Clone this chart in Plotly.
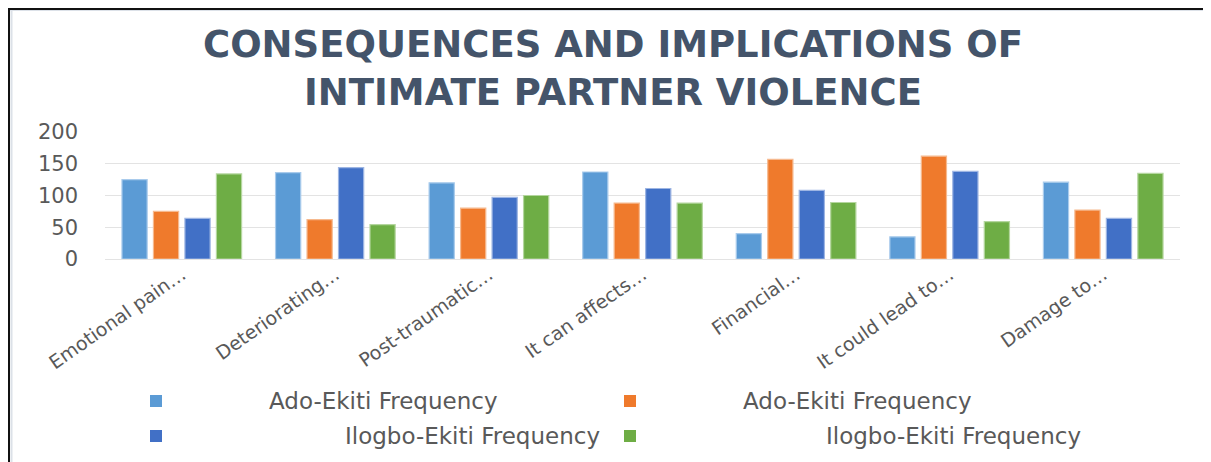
import plotly.graph_objects as go

categories = ["Emotional pain…", "Deteriorating…", "Post-traumatic…", "It can affects…",
              "Financial…", "It could lead to…", "Damage to…"]
series_names = ["Ado-Ekiti Frequency", "Ado-Ekiti Frequency",
                "Ilogbo-Ekiti Frequency", "Ilogbo-Ekiti Frequency"]
ado_freq_1 = [125, 136, 120, 137, 40, 35, 121]
ado_freq_2 = [75, 62, 80, 88, 157, 162, 77]
ilogbo_freq_1 = [64, 144, 97, 111, 108, 138, 64]
ilogbo_freq_2 = [134, 54, 100, 88, 89, 59, 135]
series_values = [ado_freq_1, ado_freq_2, ilogbo_freq_1, ilogbo_freq_2]
colors = ["#5B9BD5", "#EF7A2C", "#4170C6", "#6EAD45"]
edge_colors = ["#A9CBEC", "#F6B98E", "#9DB5E3", "#B4D69E"]
y_ticks = [0, 50, 100, 150, 200]
title_text = "CONSEQUENCES AND IMPLICATIONS OF<br>INTIMATE PARTNER VIOLENCE"

OFF = 8  # page body margin
W, H = 1211 - OFF, 462 - OFF
# plot area in screen pixels
SL, SR, ST, SB = 105, 1180, 132, 259
L, R, T, B = SL - OFF, SR - OFF, ST - OFF, SB - OFF

def px_x(p):  # screen px -> paper
    return (p - OFF - L) / (R - L)

def px_y(p):
    return (B - (p - OFF)) / (B - T)

fig = go.Figure()
for name, vals, c, ec in zip(series_names, series_values, colors, edge_colors):
    fig.add_trace(go.Bar(x=categories, y=vals, name=name,
                         marker=dict(color=c, line=dict(color=ec, width=1.2)),
                         showlegend=False))

annotations = [dict(text=title_text, x=px_x(613), y=px_y(68), xref="paper", yref="paper",
                    xanchor="center", yanchor="middle", showarrow=False,
                    font=dict(family="DejaVu Sans", size=37, color="#44546A", weight="bold"))]

shapes = []
legend_pos = [  # square x, row y, text center x (screen px)
    (156, 401, 383),
    (630, 401, 857),
    (156, 436, 472),
    (630, 436, 953),
]
for (sx, ry, tx), name, c in zip(legend_pos, series_names, colors):
    shapes.append(dict(type="rect", xref="paper", yref="paper",
                       x0=px_x(sx - 6), x1=px_x(sx + 6), y0=px_y(ry - 6), y1=px_y(ry + 6),
                       fillcolor=c, line=dict(width=0)))
    annotations.append(dict(text=name, x=px_x(tx), y=px_y(ry), xref="paper", yref="paper",
                            xanchor="center", yanchor="middle", showarrow=False,
                            font=dict(family="DejaVu Sans", size=23, color="#595959")))

# Frame (left and top edges)
shapes.append(dict(type="line", xref="paper", yref="paper", x0=px_x(11.5), x1=px_x(11.5),
                   y0=px_y(10), y1=px_y(470), line=dict(color="#DCE1E8", width=2)))
shapes.append(dict(type="line", xref="paper", yref="paper", x0=px_x(10), x1=px_x(1215),
                   y0=px_y(10), y1=px_y(10), line=dict(color="#DCE1E8", width=2)))
shapes.append(dict(type="line", xref="paper", yref="paper", x0=px_x(8.5), x1=px_x(8.5),
                   y0=px_y(7), y1=px_y(470), line=dict(color="#111111", width=3)))
shapes.append(dict(type="line", xref="paper", yref="paper", x0=px_x(7), x1=px_x(1215),
                   y0=px_y(8.5), y1=px_y(8.5), line=dict(color="#111111", width=3)))

fig.update_layout(
    width=W, height=H,
    margin=dict(l=L, r=W - R, t=T, b=H - B, autoexpand=False),
    paper_bgcolor="white", plot_bgcolor="white",
    barmode="group", bargap=0.18, bargroupgap=0.2,
    showlegend=False,
    annotations=annotations, shapes=shapes,
    xaxis=dict(tickangle=-35, tickfont=dict(family="DejaVu Sans", size=19, color="#595959"),
               showgrid=False, showline=False, ticks="", automargin=False),
    yaxis=dict(range=[0, 200], tickvals=y_ticks, showgrid=True, gridcolor="#E3E3E3", gridwidth=1,
               zeroline=True, zerolinecolor="#E3E3E3", zerolinewidth=1, showline=False,
               tickfont=dict(family="DejaVu Sans", size=21, color="#595959"),
               ticks="", ticklabelstandoff=26, automargin=False),
)

fig.write_html("out.html")
